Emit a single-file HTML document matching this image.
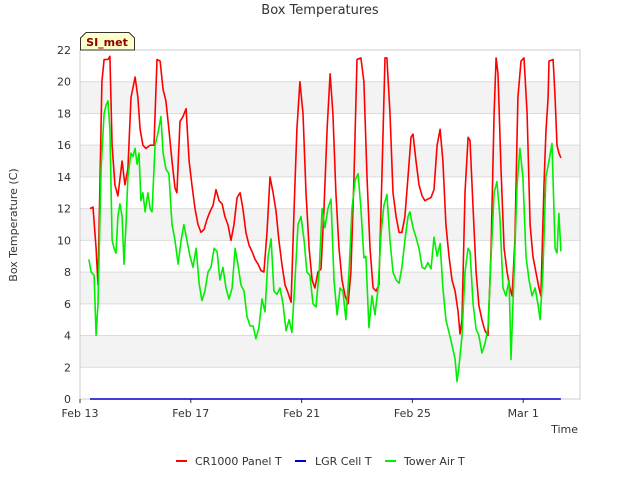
<!DOCTYPE html>
<html><head><meta charset="utf-8"><style>
body{margin:0;background:#fff;}
svg{display:block;font-family:"DejaVu Sans","Liberation Sans",sans-serif;}
</style></head><body>
<svg id="chart" width="640" height="480" viewBox="0 0 640 480">
<rect width="640" height="480" fill="#fff"/>
<text x="320" y="14" text-anchor="middle" font-size="13" fill="#333">Box Temperatures</text>
<g id="bands"></g>
<g id="grid"></g>
<rect x="80" y="50" width="500" height="349" fill="none" stroke="#ccc"/>
<g id="yticks"></g>
<g id="xticks"></g>
<text transform="translate(17,225) rotate(-90)" text-anchor="middle" font-size="11" fill="#333">Box Temperature (C)</text>
<text x="578" y="433" text-anchor="end" font-size="11" fill="#333">Time</text>
<g id="series"></g>
<g>
<path d="M80.5,50 L80.5,38 L86,32.5 L129,32.5 L134.5,38 L134.5,50 Z" fill="#ffffc8" stroke="#333"/>
<text x="107" y="46" text-anchor="middle" font-size="11" font-weight="bold" fill="#8b0000">SI_met</text>
</g>
<g>
<g><line x1="176" y1="461" x2="187" y2="461" stroke="#ff0000" stroke-width="2"/><text x="195" y="465" font-size="11" fill="#333">CR1000 Panel T</text></g>
<g><line x1="295" y1="461" x2="306" y2="461" stroke="#0000cc" stroke-width="2"/><text x="315" y="465" font-size="11" fill="#333">LGR Cell T</text></g>
<g><line x1="385" y1="461" x2="396" y2="461" stroke="#00ee00" stroke-width="2"/><text x="404" y="465" font-size="11" fill="#333">Tower Air T</text></g>
</g>
</svg>
<script>
const yTicks=[0,2,4,6,8,10,12,14,16,18,20,22];
const xTickDays=[0,4,8,12,16];
const xTickLabels=["Feb 13","Feb 17","Feb 21","Feb 25","Mar 1"];
const redDays=[0.36,0.47,0.58,0.65,0.79,0.87,1.01,1.08,1.16,1.26,1.37,1.52,1.62,1.73,1.84,1.99,2.09,2.17,2.27,2.38,2.53,2.67,2.78,2.89,3.00,3.10,3.21,3.32,3.43,3.50,3.61,3.72,3.83,3.94,4.04,4.15,4.26,4.37,4.48,4.58,4.69,4.80,4.91,5.02,5.13,5.23,5.34,5.45,5.56,5.67,5.78,5.88,5.99,6.10,6.21,6.32,6.43,6.53,6.64,6.75,6.86,6.97,7.08,7.18,7.29,7.40,7.51,7.62,7.73,7.83,7.94,8.05,8.16,8.27,8.38,8.48,8.59,8.70,8.81,8.92,9.03,9.13,9.24,9.35,9.46,9.57,9.68,9.78,9.89,10.00,10.14,10.25,10.36,10.47,10.58,10.69,10.79,10.90,11.01,11.08,11.19,11.30,11.41,11.52,11.62,11.73,11.84,11.95,12.02,12.13,12.24,12.35,12.45,12.56,12.67,12.78,12.89,13.00,13.10,13.21,13.32,13.43,13.54,13.65,13.72,13.79,13.90,14.01,14.08,14.19,14.30,14.40,14.51,14.62,14.73,14.84,14.95,15.02,15.09,15.20,15.31,15.42,15.52,15.60,15.70,15.81,15.92,16.03,16.14,16.25,16.35,16.46,16.57,16.64,16.75,16.82,16.90,16.93,17.08,17.15,17.22,17.29,17.36];
const redVals=[12,12.1,9.5,7.2,20,21.4,21.4,21.6,16,13.5,12.8,15,13.5,14.5,19,20.3,19,17,16,15.8,16,16,21.4,21.3,19.5,18.8,17,15,13.3,13,17.5,17.8,18.3,15,13.5,12,11,10.5,10.7,11.3,11.8,12.2,13.2,12.5,12.3,11.5,11,10,11,12.7,13,12,10.5,9.7,9.3,8.8,8.5,8.1,8,10.5,14,13,11.8,10,8.5,7.2,6.7,6.1,12,17,20,18,13,9.5,7.5,7,8,8.2,12,17,20.5,18,13,9.5,7.5,6.5,6,8,14,21.4,21.5,20,14,9.5,7,6.8,7.2,14,21.5,21.5,18,13,11.5,10.5,10.5,11.5,14,16.5,16.7,15,13.5,12.8,12.5,12.6,12.7,13.2,16,17,15,11,9,7.5,6.8,5.5,4.1,5,13,16.5,16.3,12,8,5.9,5,4.3,4,9.5,18,21.5,20.5,14.5,9.5,8,7,6.5,10,19,21.3,21.5,18,11,9,8,7,6.5,13.5,16.8,19,21.3,21.4,19,16,15.5,15.2];
const greenDays=[0.32,0.40,0.51,0.58,0.65,0.76,0.87,0.94,1.01,1.08,1.16,1.23,1.30,1.37,1.44,1.52,1.59,1.66,1.73,1.84,1.91,1.99,2.06,2.13,2.20,2.27,2.35,2.45,2.53,2.60,2.71,2.82,2.92,3.00,3.10,3.21,3.32,3.43,3.54,3.65,3.75,3.86,3.97,4.08,4.19,4.30,4.40,4.51,4.62,4.73,4.84,4.95,5.05,5.16,5.27,5.38,5.49,5.60,5.70,5.81,5.92,6.03,6.14,6.25,6.35,6.46,6.57,6.68,6.79,6.90,7.00,7.11,7.22,7.33,7.44,7.55,7.65,7.76,7.87,7.98,8.09,8.19,8.30,8.41,8.52,8.63,8.74,8.84,8.95,9.06,9.17,9.28,9.39,9.49,9.60,9.71,9.82,9.93,10.04,10.14,10.25,10.32,10.43,10.54,10.65,10.76,10.87,10.97,11.08,11.19,11.30,11.41,11.52,11.62,11.73,11.84,11.91,12.02,12.13,12.24,12.35,12.45,12.56,12.67,12.78,12.89,13.00,13.10,13.21,13.32,13.43,13.54,13.61,13.68,13.79,13.90,14.01,14.08,14.19,14.30,14.40,14.51,14.62,14.73,14.84,14.95,15.05,15.16,15.27,15.38,15.49,15.56,15.67,15.78,15.88,15.99,16.10,16.21,16.32,16.43,16.53,16.61,16.71,16.82,16.93,17.04,17.15,17.22,17.29,17.36];
const greenVals=[8.8,8,7.8,4,6,14.5,18,18.5,18.8,17,10,9.5,9.2,11.5,12.3,11.5,8.5,11,14,15.5,15.3,15.8,14.8,15.5,12.5,13,11.8,13,12,11.8,16,16.8,17.8,15.5,14.5,14.2,11,10,8.5,10,11,10,9,8.3,9.5,7.3,6.2,6.8,8,8.3,9.5,9.3,7.5,8.3,7,6.3,7,9.5,8.5,7.2,6.8,5.2,4.6,4.6,3.8,4.5,6.3,5.5,9,10.1,6.8,6.6,7,6,4.3,5,4.2,7.5,11,11.5,10,8,7.8,6,5.8,8,12,10.8,12,12.6,7.5,5.3,7,6.8,5,8,12,13.8,14.2,12,8.9,9,4.5,6.5,5.3,7,10.5,12.2,12.9,10,8,7.5,7.3,8.3,10,11.5,11.8,10.8,10.2,9.5,8.3,8.2,8.6,8.2,10.2,9,9.8,7,5,4.2,3.4,2.5,1.1,2,4,8,9.5,9.3,6,4.4,4,2.9,3.5,4.5,9,13,13.7,11.5,7,6.5,7.5,2.5,8,13.5,15.8,14,9,7.5,6.5,7,6,5,8,14,15,16.1,9.5,9.2,11.7,9.3];
const blueDays=[0.36,17.36];
const blueVals=[0,0];

const NS="http://www.w3.org/2000/svg";
const X0=80,X1=580,Y0=399,Y1=50,DAYPX=27.7,YMAX=22;
function xs(d){return X0+d*DAYPX;}
function ys(v){return Y0-(v/YMAX)*(Y0-Y1);}
function mk(tag,attrs,parent){const e=document.createElementNS(NS,tag);for(const k in attrs)e.setAttribute(k,attrs[k]);parent.appendChild(e);return e;}
const bands=document.getElementById('bands'),grid=document.getElementById('grid'),yt=document.getElementById('yticks'),xt=document.getElementById('xticks'),ser=document.getElementById('series');
for(let i=0;i<yTicks.length-1;i++){
  if(i%2===1){
    const r=mk('rect',{x:X0,y:ys(yTicks[i+1]),width:X1-X0,height:ys(yTicks[i])-ys(yTicks[i+1]),fill:'#f3f3f3'},bands);
    
    
  }
}
yTicks.forEach(v=>{
  const l=mk('line',{x1:X0,x2:X1,y1:ys(v),y2:ys(v),stroke:'#dcdcdc'},grid);
  
  
  const t=mk('text',{x:X0-9,y:ys(v)+4,'text-anchor':'end','font-size':11,fill:'#333'},yt);
  t.textContent=v;
  
  
});
xTickDays.forEach((d,i)=>{
  mk('line',{x1:xs(d),x2:xs(d),y1:Y0,y2:Y0+4,stroke:'#333'},xt);
  const t=mk('text',{x:xs(d),y:Y0+18,'text-anchor':'middle','font-size':11,fill:'#333'},xt);
  t.textContent=xTickLabels[i];
  
  
});
function line(days,vals,color,name){
  const p=mk('polyline',{points:days.map((d,i)=>xs(d).toFixed(1)+','+ys(vals[i]).toFixed(1)).join(' '),fill:'none',stroke:color,'stroke-width':1.6,'stroke-linejoin':'round'},ser);
  
  
}
line(blueDays,blueVals,'#0000cc','lgr-cell-t-line');
line(redDays,redVals,'#ff0000','cr1000-panel-t-line');
line(greenDays,greenVals,'#00ee00','tower-air-t-line');
</script>
</body></html>
